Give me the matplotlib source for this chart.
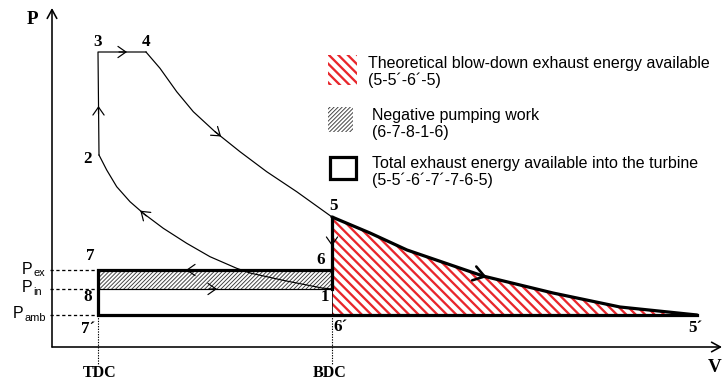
import matplotlib
matplotlib.use('Agg')
import matplotlib.pyplot as plt
from matplotlib.patches import Polygon, Rectangle
import matplotlib.transforms as mtransforms

DPI = 85
W, H = 726, 385

# ---------------- data (chart units: V to the right, P upward) ----------------
V_TDC, V_BDC = 46, 280
P_EX, P_IN, P_AMB = 77, 58, 32
combustion_V = [47, 46, 94]            # 2 -> 3 -> 4
combustion_P = [192, 295, 295]
expansion_V = [94, 108, 124.7, 141.3, 163, 188, 214.7, 244.7, 280]     # 4 -> 5
expansion_P = [295, 278.7, 255.3, 235.3, 215.3, 195.3, 175.3, 155.3, 130]
compression_V = [280, 270, 232, 198, 184.7, 158, 134.7, 111.3, 91.3, 78, 64.7, 54.7, 47]  # 1 -> 2
compression_P = [58, 59, 66.5, 74, 78.7, 90.3, 103.7, 118.7, 133.7, 145.3, 160.3, 177, 192]
blowdown_V = [280, 318, 355, 431, 501, 568, 645]           # 5 -> 5'
blowdown_P = [130, 114, 97, 71, 54, 40, 32]

point_labels = ['3', '4', '2', '5', '6', '7', '8', '1', '7\u00b4', '6\u00b4', '5\u00b4']
legend_labels = ['Theoretical blow-down exhaust energy available\n(5-5\u00b4-6\u00b4-5)',
                 'Negative pumping work\n(6-7-8-1-6)',
                 'Total exhaust energy available into the turbine\n(5-5\u00b4-6\u00b4-7\u00b4-7-6-5)']


def fs(px):
    return px * 72.0 / DPI


def lw(px):
    return px * 72.0 / DPI


RED = '#e8262c'
GRAY = '#3a3a3a'
SERIF = ['Liberation Serif', 'DejaVu Serif']
SANS = ['Liberation Sans', 'DejaVu Sans']
RED_HATCH = '\\\\\\'
GRAY_HATCH = '///////'

fig = plt.figure(figsize=(W / DPI, H / DPI), dpi=DPI)
ax = fig.add_axes([0, 0, 1, 1])
ax.set_xlim(-52, 674)
ax.set_ylim(-38, 347)
ax.axis('off')

# pixel transform for legend (top-left origin)
pix = mtransforms.Affine2D().scale(1.0 / W, -1.0 / H).translate(0, 1) + fig.transFigure


def hatch_lw(p, val):
    if hasattr(p, 'set_hatch_linewidth'):
        p.set_hatch_linewidth(val)


# ---------------- filled regions ----------------
red_poly = Polygon(list(zip(blowdown_V, blowdown_P)) + [(V_BDC, P_AMB)], closed=True,
                   facecolor='white', edgecolor=RED, linewidth=0, hatch=RED_HATCH, zorder=1)
hatch_lw(red_poly, lw(2.3))
ax.add_patch(red_poly)

gray_rect = Rectangle((V_TDC, P_IN), V_BDC - V_TDC, P_EX - P_IN, facecolor='white',
                      edgecolor=GRAY, linewidth=0, hatch=GRAY_HATCH, zorder=1)
hatch_lw(gray_rect, lw(0.9))
ax.add_patch(gray_rect)

# ---------------- axes with arrow heads ----------------
ax_arrow = dict(arrowstyle='->,head_length=0.55,head_width=0.3', lw=lw(1.6), color='black',
                shrinkA=0, shrinkB=0, mutation_scale=fs(16))
ax.annotate('', xy=(0, 339), xytext=(0, 0), arrowprops=ax_arrow, zorder=3)
ax.annotate('', xy=(670, 0), xytext=(0, 0), arrowprops=ax_arrow, zorder=3)

# ---------------- thin cycle lines ----------------
thin = lw(1.2)
ax.plot(combustion_V, combustion_P, color='black', lw=thin, zorder=3)
ax.plot(expansion_V, expansion_P, color='black', lw=thin, zorder=3)
ax.plot(compression_V, compression_P, color='black', lw=thin, zorder=3)
ax.plot([V_TDC, V_BDC], [P_IN, P_IN], color='black', lw=thin, zorder=3)
ax.plot([V_BDC, V_BDC], [P_IN, P_AMB], color='black', lw=lw(0.8), zorder=3)

# ---------------- thick boundary ----------------
thick = lw(3.2)
ax.plot([V_BDC, V_BDC, V_TDC, V_TDC, blowdown_V[-1]],
        [blowdown_P[0], P_EX, P_EX, P_AMB, P_AMB], color='black', lw=thick,
        solid_joinstyle='miter', zorder=4)
ax.plot([V_BDC, V_BDC], [P_EX, P_IN], color='black', lw=thick, zorder=4)
ax.plot(blowdown_V, blowdown_P, color='black', lw=thick, solid_capstyle='round', zorder=4)

# ---------------- dashed / dotted guides ----------------
for p in (P_EX, P_IN, P_AMB):
    ax.plot([-2, V_TDC], [p, p], color='black', lw=lw(1.3), ls=(0, (2.5, 2.0)), zorder=2)
for v in (V_TDC, V_BDC):
    ax.plot([v, v], [P_AMB, -18], color='black', lw=lw(1.1), ls=(0, (1.2, 1.2)), zorder=2)


# ---------------- direction arrows ----------------
def arrow_at(x, y, dx, dy, width=1.2, hl=0.5, hw=0.35, ms=16):
    n = (dx * dx + dy * dy) ** 0.5
    ux, uy = dx / n, dy / n
    ax.annotate('', xy=(x + ux * 4, y + uy * 4), xytext=(x - ux * 4, y - uy * 4),
                arrowprops=dict(arrowstyle='->,head_length=%g,head_width=%g' % (hl, hw),
                                lw=lw(width), color='black', shrinkA=0, shrinkB=0,
                                mutation_scale=fs(ms)), zorder=5)


arrow_at(71, 295, 1, 0)
arrow_at(46.5, 237, 0, 1)
arrow_at(166, 213, 25, -20)
arrow_at(91.3, 133.7, -13.3, 11.6)
arrow_at(138, P_EX, -1, 0)
arrow_at(161, P_IN, 1, 0)
arrow_at(V_BDC, 105, 0, -1)
arrow_at(431, 71, 146, -43, width=2.6, hl=0.6, hw=0.4, ms=18)

# ---------------- labels ----------------
label_pos = [(46, 305), (94, 305), (35, 188), (281, 141), (269, 87), (38, 91),
             (36, 50), (273, 50), (36, 18), (288, 20), (643, 19)]
for t, (x, y) in zip(point_labels, label_pos):
    ax.text(x, y, t, family=SERIF, weight='bold', fontsize=fs(17), ha='center', va='center', zorder=6)

ax.text(-20, 327, 'P', family=SERIF, weight='bold', fontsize=fs(19), ha='center', va='center')
ax.text(663, -20, 'V', family=SERIF, weight='bold', fontsize=fs(19), ha='center', va='center')
ax.text(48, -26, 'TDC', family=SERIF, weight='bold', fontsize=fs(16), ha='center', va='center')
ax.text(278, -26, 'BDC', family=SERIF, weight='bold', fontsize=fs(16), ha='center', va='center')

for main_x, sub, p in ((22, 'ex', P_EX), (22, 'in', P_IN), (13, 'amb', P_AMB)):
    t = ax.text(main_x - 52, p + 1, 'P', family=SANS, fontsize=fs(16), ha='left', va='center')
    ax.annotate(sub, xy=(1, 0), xycoords=t, xytext=(0.5, -1.5), textcoords='offset points',
                family=SANS, fontsize=fs(11), ha='left', va='bottom')

# ---------------- legend (manual) ----------------
r1 = Rectangle((328, 55), 29, 30, transform=pix, facecolor='white', edgecolor=RED,
               linewidth=0, hatch=RED_HATCH)
hatch_lw(r1, lw(2.3))
r2 = Rectangle((328, 107), 25, 25, transform=pix, facecolor='white', edgecolor=GRAY,
               linewidth=0, hatch=GRAY_HATCH)
hatch_lw(r2, lw(0.9))
r3 = Rectangle((329.5, 156.5), 26, 22, transform=pix, facecolor='white', edgecolor='black',
               linewidth=lw(3.2))
for r in (r1, r2, r3):
    fig.add_artist(r)

for (x, y), t in zip([(368, 72), (372, 124), (372, 172)], legend_labels):
    fig.text(x, y, t, transform=pix, family=SANS, fontsize=fs(16), ha='left', va='center',
             linespacing=1.12)

fig.savefig('out.png', dpi=DPI)
